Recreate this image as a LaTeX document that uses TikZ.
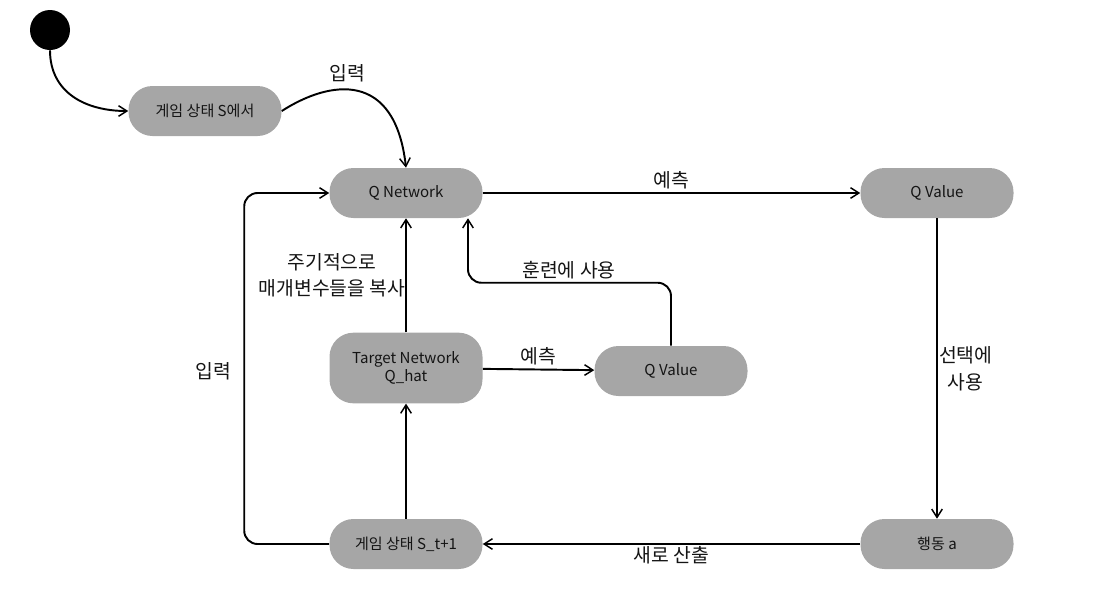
\documentclass[tikz,border=0pt]{standalone}
\usepackage{fontspec}
\setmainfont{Noto Sans CJK KR}
\usetikzlibrary{positioning,calc,arrows.meta}
\definecolor{box}{RGB}{166,166,166}
\definecolor{ink}{RGB}{20,20,20}

\begin{document}
\begin{tikzpicture}[
  x=0.75pt, y=-0.75pt,
  >={Straight Barb[length=2.2mm,width=2.8mm,line width=1.1pt]},
  state/.style={rounded corners=18pt, fill=box, draw=none, text=ink, align=center,
    minimum width=114.75pt, minimum height=37.5pt, font=\fontsize{11.3}{13.5}\selectfont},
  lbl/.style={text=ink, align=center, font=\fontsize{14.5}{20}\selectfont},
  flow/.style={->, line width=1.45pt, draw=black},
]
\useasboundingbox (0,0) rectangle (1102,593);

% ---- states ----
\node[circle, fill=black, minimum size=30pt, inner sep=0pt] (start) at (50,30) {};
\node[state] (s0) at (205,111) {게임 상태 S에서};
\node[state] (qnet) at (406,193) {Q Network};
\node[state] (qval) at (937,193) {Q Value};
\node[state, minimum height=53pt] (target) at (406,368) {Target Network\\Q\_hat};
\node[state] (qval2) at (671,371) {Q Value};
\node[state] (act) at (937,544) {행동 a};
\node[state] (s1) at (406,544) {게임 상태 S\_t+1};

% ---- connectors ----
\draw[flow] (start.south) to[out=-90,in=180,looseness=1.1] (s0.west);
\draw[flow] (s0.east) .. controls (330,80) and (395,70) .. (qnet.north);
\node[lbl] (lin) at (347,73) {입력};

\draw[flow] (qnet) -- node[lbl, above=-1pt] {예측} (qval);
\draw[flow] (qval) -- (act);
\node[lbl, right=-2pt of $(qval.south)!0.5!(act.north)$] (lsel) {선택에\\사용};
\draw[flow] (act) -- node[lbl, below=-2pt] {새로 산출} (s1);
\draw[flow] (s1) -- (target);
\draw[flow] (target) -- (qnet);
\node[lbl, left=-3pt of $(qnet.south)!0.5!(target.north)$] (lcopy) {주기적으로\\매개변수들을 복사};
\draw[flow] (target) -- node[lbl, above=-1pt] {예측} (qval2);

\coordinate (qin) at ($(qnet.south)+(62,0)$);
\draw[flow, rounded corners=10pt] (qval2.north) -- ++(0,-63) -| (qin);
\node[lbl] (ltrain) at (569,270) {훈련에 사용};

\draw[flow, rounded corners=10pt] (s1.west) -- ++(-85,0) |- (qnet.west);
\node[lbl] (lin2) at (213,371) {입력};

\end{tikzpicture}
\end{document}
